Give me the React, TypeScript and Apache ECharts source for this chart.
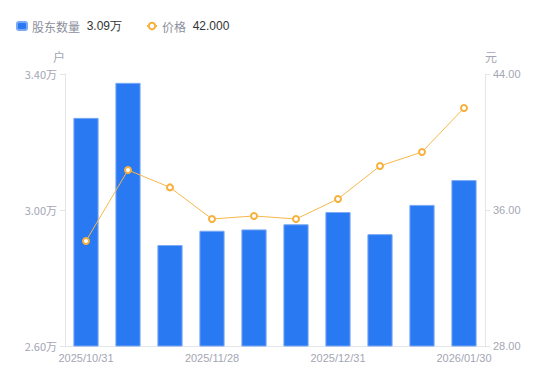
import React, { useEffect, useRef } from "react";
import * as echarts from "echarts";

const categories = [
  "2025/10/31", "2025/11/10", "2025/11/20", "2025/11/28", "2025/12/10",
  "2025/12/19", "2025/12/31", "2026/01/09", "2026/01/20", "2026/01/30",
];
const holders = [3.271, 3.374, 2.897, 2.939, 2.943, 2.958, 2.994, 2.929, 3.015, 3.088];
const prices = [34.18, 38.35, 37.33, 35.47, 35.65, 35.47, 36.65, 38.59, 39.41, 42.0];
const leftTicks = [2.6, 3.0, 3.4];
const rightTicks = [28, 36, 44];
const legendValues: Record<string, string> = { "股东数量": "3.09万", "价格": "42.000" };

const gray = "#a3a6b4";
const axisLineColor = "#e4e5e8";

export default function App() {
  const ref = useRef<HTMLDivElement>(null);
  useEffect(() => {
    if (!ref.current) return;
    const chart = echarts.init(ref.current, null, { renderer: "svg" });
    chart.setOption({
      animation: false,
      legend: {
        left: 11,
        top: 15,
        itemGap: 24,
        itemWidth: 10,
        itemHeight: 8,
        data: [
          { name: "股东数量", icon: "roundRect", itemStyle: { color: "#2979f2" } },
          { name: "价格" },
        ],
        formatter: (name: string) => `{n|${name}}  {v|${legendValues[name]}}`,
        textStyle: {
          rich: {
            n: { fontSize: 12, color: "#8c909c", fontFamily: "Noto Sans CJK SC" },
            v: { fontSize: 12, color: "#333333", fontFamily: "Liberation Sans" },
          },
        },
      },
      grid: { left: 65, right: 65, top: 74, bottom: 35 },
      xAxis: {
        type: "category",
        data: categories,
        axisLine: { lineStyle: { color: axisLineColor } },
        axisTick: { show: false },
        axisLabel: {
          color: gray,
          fontSize: 11,
          fontFamily: "Liberation Sans",
          interval: 2,
          margin: 6,
        },
      },
      yAxis: [
        {
          type: "value",
          min: 2.6,
          max: 3.4,
          name: "户",
          nameGap: 12,
          nameTextStyle: { color: gray, fontSize: 12, align: "right", fontFamily: "Noto Sans CJK SC" },
          axisLine: { show: true, lineStyle: { color: axisLineColor } },
          axisTick: { show: true, length: 5, lineStyle: { color: axisLineColor }, customValues: leftTicks },
          splitLine: { show: false },
          axisLabel: {
            color: gray,
            fontSize: 11,
            fontFamily: "Noto Sans CJK SC",
            customValues: leftTicks,
            formatter: (v: number) => v.toFixed(2) + "万",
          },
        },
        {
          type: "value",
          min: 28,
          max: 44,
          name: "元",
          nameGap: 12,
          nameTextStyle: { color: gray, fontSize: 12, align: "left", fontFamily: "Noto Sans CJK SC" },
          axisLine: { show: true, lineStyle: { color: axisLineColor } },
          axisTick: { show: true, length: 5, lineStyle: { color: axisLineColor }, customValues: rightTicks },
          splitLine: { show: false },
          axisLabel: {
            color: gray,
            fontSize: 11,
            fontFamily: "Liberation Sans",
            customValues: rightTicks,
            formatter: (v: number) => v.toFixed(2),
          },
        },
      ],
      series: [
        {
          name: "股东数量",
          type: "bar",
          yAxisIndex: 0,
          data: holders,
          barWidth: "60%",
          itemStyle: { color: "#2979f2", borderColor: "#7aa9f5", borderWidth: 1 },
        },
        {
          name: "价格",
          type: "line",
          yAxisIndex: 1,
          data: prices,
          symbol: "emptyCircle",
          symbolSize: 6,
          lineStyle: { color: "#f7b84a", width: 1 },
          itemStyle: { color: "#f7b03c", borderWidth: 2 },
        },
      ],
    });
    return () => chart.dispose();
  }, []);
  return <div ref={ref} style={{ width: 550, height: 381, margin: -8 }} />;
}
